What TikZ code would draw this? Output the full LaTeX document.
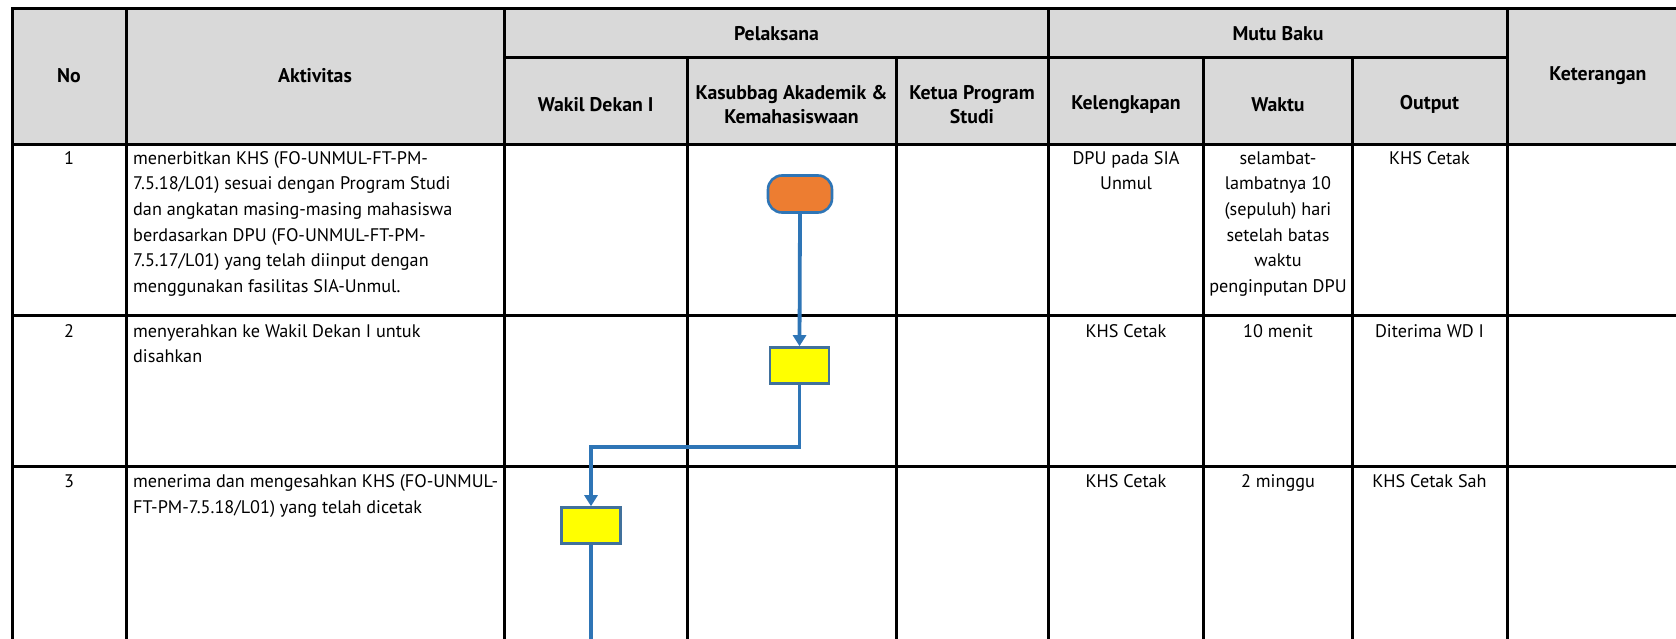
\documentclass[tikz,border=0pt]{standalone}
\usepackage{fontspec}
\setmainfont{PT Sans}
\usetikzlibrary{arrows.meta}
\definecolor{hdr}{HTML}{D9D9D9}
\definecolor{flow}{HTML}{2E75B6}
\definecolor{term}{HTML}{ED7D31}
\definecolor{boxline}{HTML}{41719C}
\definecolor{procfill}{HTML}{FFFF00}
\tikzset{
  grid/.style={line width=3pt, black, line cap=rect},
  txt/.style={inner sep=0pt, font=\fontsize{18.2}{25.7}\selectfont},
  ctxt/.style={txt, align=center, anchor=north},
  ltxt/.style={txt, align=left, anchor=north west},
  htxt/.style={inner sep=0pt, align=center, font=\fontsize{19.8}{23.5}\selectfont\bfseries},
  termbox/.style={draw=flow, fill=term, line width=2.6pt, minimum width=64pt, minimum height=37pt, rounded corners=14pt, inner sep=0pt},
  procbox/.style={draw=boxline, fill=procfill, line width=2.6pt, minimum width=59pt, minimum height=36pt, inner sep=0pt},
  conn/.style={draw=flow, line width=3.8pt},
  tip/.style={-{Triangle[width=13pt,length=11pt]}}
}
\begin{document}
\begin{tikzpicture}[x=1pt,y=-1pt]
\useasboundingbox (0,0) rectangle (1676,639);
% header background
\fill[hdr] (12.8,8.5) rectangle (1676,144.3);
% horizontal rules
\draw[grid] (12.8,8.5) -- (1676,8.5);
\draw[grid] (504.5,57.7) -- (1507,57.7);
\draw[grid] (12.8,144.3) -- (1676,144.3);
\draw[grid] (12.8,315.3) -- (1676,315.3);
\draw[grid] (12.8,466.5) -- (1676,466.5);
% vertical rules
\foreach \x in {12.8,126,504.5,1048.6,1507} \draw[grid] (\x,8.5) -- (\x,639);
\foreach \x in {687,896,1203.6,1352} \draw[grid] (\x,57.7) -- (\x,639);
% header texts
\node[htxt] (hNo) at (69,76) {No};
\node[htxt] (hAkt) at (315,76) {Aktivitas};
\node[htxt] (hPel) at (776.5,34) {Pelaksana};
\node[htxt] (hMutu) at (1278,34) {Mutu Baku};
\node[htxt] (hKet) at (1598,76) {Keterangan};
\node[htxt] (hWD) at (595.7,104.5) {Wakil Dekan I};
\node[htxt] (hKas) at (791.5,104.5) {Kasubbag Akademik \&\\Kemahasiswaan};
\node[htxt] (hKPS) at (972,104.5) {Ketua Program\\Studi};
\node[htxt] (hKel) at (1126,104.5) {Kelengkapan};
\node[htxt] (hWak) at (1278,104.5) {Waktu};
\node[htxt] (hOut) at (1429.5,104.5) {Output};
% row 1
\node[ctxt] (n1) at (69,146) {\strut 1};
\node[ltxt] (a1) at (133,146) {\strut menerbitkan KHS (FO-UNMUL-FT-PM-\\7.5.18/L01) sesuai dengan Program Studi\\dan angkatan masing-masing mahasiswa\\berdasarkan DPU (FO-UNMUL-FT-PM-\\7.5.17/L01) yang telah diinput dengan\\menggunakan fasilitas SIA-Unmul.};
\node[ctxt] (k1) at (1126,146) {\strut DPU pada SIA\\Unmul};
\node[ctxt] (w1) at (1278,146) {\strut selambat-\\lambatnya 10\\(sepuluh) hari\\setelah batas\\waktu\\penginputan DPU};
\node[ctxt] (o1) at (1429.5,146) {\strut KHS Cetak};
% row 2
\node[ctxt] (n2) at (69,319) {\strut 2};
\node[ltxt] (a2) at (133,319) {\strut menyerahkan ke Wakil Dekan I untuk\\disahkan};
\node[ctxt] (k2) at (1126,319) {\strut KHS Cetak};
\node[ctxt] (w2) at (1278,319) {\strut 10 menit};
\node[ctxt] (o2) at (1429.5,319) {\strut Diterima WD I};
% row 3
\node[ctxt] (n3) at (69,469.5) {\strut 3};
\node[ltxt] (a3) at (133,469.5) {\strut menerima dan mengesahkan KHS (FO-UNMUL-\\FT-PM-7.5.18/L01) yang telah dicetak};
\node[ctxt] (k3) at (1126,469.5) {\strut KHS Cetak};
\node[ctxt] (w3) at (1278,469.5) {\strut 2 minggu};
\node[ctxt] (o3) at (1429.5,469.5) {\strut KHS Cetak Sah};
% flow shapes
\node[termbox] (t1) at (800,194) {};
\node[procbox] (p2) at (799.5,365.5) {};
\node[procbox] (p3) at (591,525.5) {};
\coordinate (bot) at (591,639);
% connectors
\draw[conn, tip] (t1.south) -- (p2.north);
\draw[conn, tip] (p2.south) -- ++(0,62) -| (p3.north);
\draw[conn] (p3.south) -- (bot);
\end{tikzpicture}
\end{document}
